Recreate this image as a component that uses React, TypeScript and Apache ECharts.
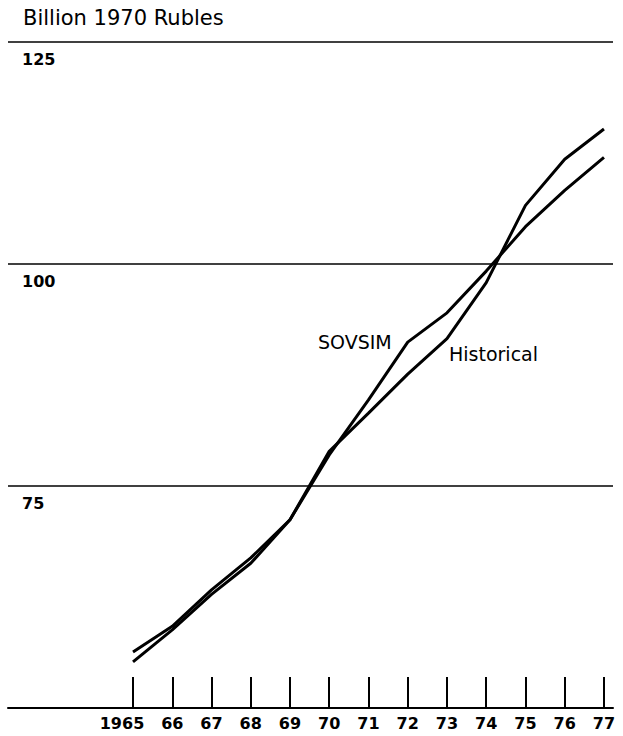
import React, { useEffect, useRef } from "react";
import * as echarts from "echarts";

const years = [1965, 1966, 1967, 1968, 1969, 1970, 1971, 1972, 1973, 1974, 1975, 1976, 1977];
const historical = [56.3, 59.2, 63.3, 66.9, 71.2, 78.9, 83.2, 87.6, 91.6, 97.9, 106.6, 111.8, 115.2];
const sovsim = [55.2, 58.8, 62.8, 66.3, 71.2, 78.5, 84.7, 91.2, 94.5, 99.2, 104.2, 108.3, 112.0];
const yTickLabels = [75, 100, 125];
const unitTitle = "Billion 1970 Rubles";

const FONT = "DejaVu Sans";

export default function App() {
  const ref = useRef<HTMLDivElement>(null);
  useEffect(() => {
    if (!ref.current) return;
    const chart = echarts.init(ref.current, undefined, { renderer: "svg" });
    const toPairs = (vals: number[]) => years.map((y, i) => [y, vals[i]]);
    chart.setOption({
      animation: false,
      backgroundColor: "#fff",
      grid: { left: 8, right: 10, top: 42, bottom: 28, containLabel: false },
      xAxis: {
        type: "value",
        min: 1961.815,
        max: 1977.23,
        axisLine: { show: true, lineStyle: { color: "#000", width: 2 } },
        axisTick: {
          show: true,
          inside: true,
          length: 31,
          customValues: years,
          lineStyle: { color: "#000", width: 2 },
        },
        axisLabel: {
          show: true,
          customValues: years,
          margin: 7,
          color: "#000",
          fontFamily: FONT,
          fontWeight: "bold",
          fontSize: 16,
          formatter: (v: number) =>
            v === years[0] ? "{f|" + String(v) + "}" : String(v).slice(2),
          rich: {
            f: {
              fontFamily: FONT,
              fontWeight: "bold",
              fontSize: 16,
              color: "#000",
              padding: [0, 22, 0, 0],
            },
          },
        },
        splitLine: { show: false },
      },
      yAxis: {
        type: "value",
        min: 50,
        max: 125,
        interval: 25,
        axisLine: { show: false },
        axisTick: { show: false },
        axisLabel: {
          show: true,
          customValues: yTickLabels,
          inside: true,
          margin: 14,
          align: "left",
          verticalAlign: "top",
          padding: [9, 0, 0, 0],
          color: "#000",
          fontFamily: FONT,
          fontWeight: "bold",
          fontSize: 16,
        },
        splitLine: { show: true, lineStyle: { color: "#000", width: 1.5 } },
      },
      series: [
        {
          name: "Historical",
          type: "line",
          data: toPairs(historical),
          symbol: "none",
          lineStyle: { color: "#000", width: 3 },
        },
        {
          name: "SOVSIM",
          type: "line",
          data: toPairs(sovsim),
          symbol: "none",
          lineStyle: { color: "#000", width: 3 },
        },
      ],
      graphic: [
        {
          type: "text",
          left: 23,
          top: 7,
          style: {
            text: unitTitle,
            fill: "#000",
            font: `21px "${FONT}"`,
          },
        },
        {
          type: "text",
          x: 318,
          y: 342,
          style: {
            text: "SOVSIM",
            fill: "#000",
            font: `19px "${FONT}"`,
            verticalAlign: "middle",
            align: "left",
          },
        },
        {
          type: "text",
          x: 449,
          y: 354,
          style: {
            text: "Historical",
            fill: "#000",
            font: `19px "${FONT}"`,
            verticalAlign: "middle",
            align: "left",
          },
        },
      ],
    });
    return () => chart.dispose();
  }, []);
  return (
    <div
      ref={ref}
      style={{ position: "fixed", left: 0, top: 0, width: 623, height: 736, background: "#fff" }}
    />
  );
}
